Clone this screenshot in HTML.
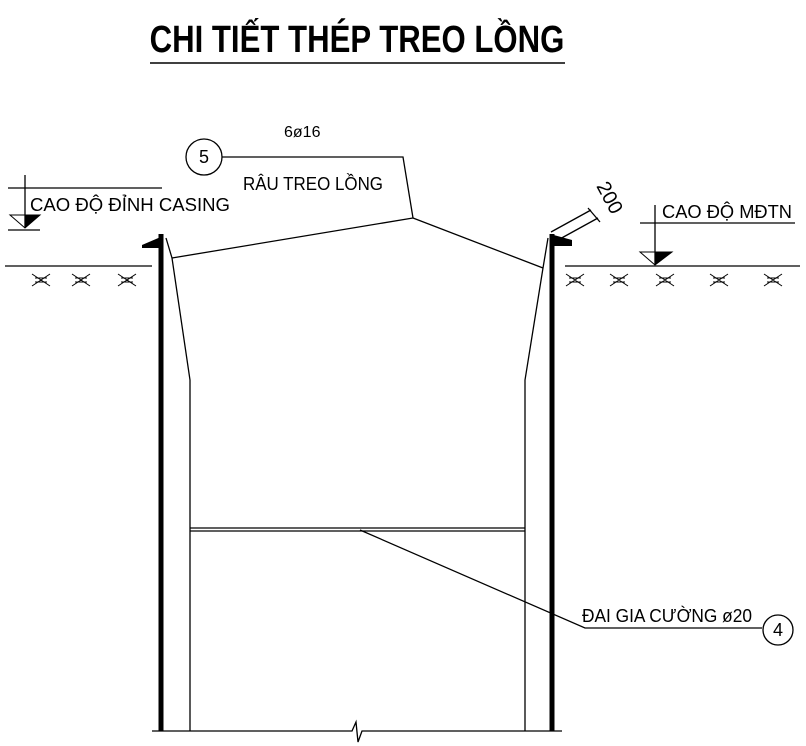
<!DOCTYPE html>
<html><head><meta charset="utf-8"><style>body{margin:0;background:#fff}svg{display:block}</style></head><body>
<svg width="806" height="746" viewBox="0 0 806 746" xmlns="http://www.w3.org/2000/svg" font-family="Liberation Sans, sans-serif">
<text x="357" y="52" text-anchor="middle" font-size="38" font-weight="bold" transform="translate(357,0) scale(0.82,1) translate(-357,0)">CHI TIẾT THÉP TREO LỒNG</text>
<line x1="150" y1="63" x2="565" y2="63" stroke="#000" stroke-width="1.5"/>
<g stroke="#000" fill="none" stroke-width="1.3">
<line x1="5" y1="266" x2="152" y2="266"/>
<line x1="565" y1="266" x2="800" y2="266"/>
<line x1="161" y1="234" x2="161" y2="731" stroke-width="5"/>
<line x1="552" y1="234" x2="552" y2="731" stroke-width="5"/>
<polyline points="166,238 172,258 190,380 190,731"/>
<polyline points="548,238 543,268 525,380 525,731"/>
<line x1="190" y1="528" x2="525" y2="528"/>
<line x1="190" y1="531" x2="525" y2="531"/>
<polyline points="152,731 352,731 356,722 358,742 362,731 562,731"/>
<polyline points="222,157 403,157 413,218 172,258"/>
<line x1="413" y1="218" x2="543" y2="268"/>
<circle cx="204" cy="157" r="18"/>
<polyline points="360,530 585,628 762,628"/>
<circle cx="778" cy="630" r="15"/>
<line x1="25" y1="175" x2="25" y2="228"/>
<line x1="8" y1="188" x2="162" y2="188"/>
<line x1="8" y1="230" x2="40" y2="230"/>
<line x1="655" y1="205" x2="655" y2="265"/>
<line x1="640" y1="223" x2="795" y2="223"/>
<line x1="551" y1="232" x2="591" y2="210"/>
<line x1="558" y1="240" x2="598" y2="218"/>
<line x1="588" y1="208" x2="600" y2="222"/>
</g>
<polygon points="10,215 25,228 40,215" fill="none" stroke="#000"/>
<polygon points="25,215 40,215 25,228" fill="#000"/>
<polygon points="640,252 655,265 672,252" fill="none" stroke="#000"/>
<polygon points="655,252 672,252 655,265" fill="#000"/>
<polygon points="142,245 163,236 163,248 142,248" fill="#000"/>
<polygon points="550,234 572,240 572,246 550,246" fill="#000"/>
<g stroke="#000" stroke-width="1" fill="none">
<path d="M32,274 l18,12 M32,286 l18,-12 M35,278 h12 M35,282 h12 M72,274 l18,12 M72,286 l18,-12 M75,278 h12 M75,282 h12 M118,274 l18,12 M118,286 l18,-12 M121,278 h12 M121,282 h12"/>
<path d="M566,274 l18,12 M566,286 l18,-12 M569,278 h12 M569,282 h12 M610,274 l18,12 M610,286 l18,-12 M613,278 h12 M613,282 h12 M656,274 l18,12 M656,286 l18,-12 M659,278 h12 M659,282 h12 M710,274 l18,12 M710,286 l18,-12 M713,278 h12 M713,282 h12 M764,274 l18,12 M764,286 l18,-12 M767,278 h12 M767,282 h12"/>
</g>
<g font-size="18" fill="#000">
<text x="30" y="211" textLength="200" lengthAdjust="spacingAndGlyphs">CAO ĐỘ ĐỈNH CASING</text>
<text x="243" y="190" textLength="140" lengthAdjust="spacingAndGlyphs">RÂU TREO LỒNG</text>
<text x="284" y="137" font-size="16">6ø16</text>
<text x="204" y="163" text-anchor="middle">5</text>
<text x="662" y="218" textLength="130" lengthAdjust="spacingAndGlyphs">CAO ĐỘ MĐTN</text>
<text x="582" y="622" textLength="170" lengthAdjust="spacingAndGlyphs">ĐAI GIA CƯỜNG ø20</text>
<text x="778" y="636" text-anchor="middle">4</text>
<text x="0" y="0" transform="translate(596,186) rotate(62)" font-size="20">200</text>
</g>
</svg>
</body></html>
